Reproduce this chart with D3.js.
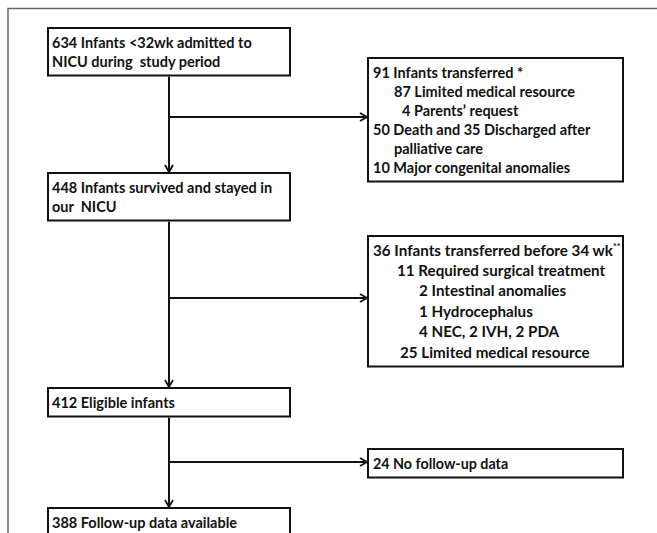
<!DOCTYPE html>
<html>
<head>
<meta charset="utf-8">
<script src="https://cdn.jsdelivr.net/npm/d3@7"></script>
<style>
  html, body { margin: 0; padding: 0; background: #fff; }
  svg { display: block; }
  text { font-family: Lato, "Open Sans", sans-serif; font-weight: bold; fill: #111; white-space: pre; }
</style>
</head>
<body>
<script>
// flow chart content
const mainSteps = [
  ['634 Infants <32wk admitted to', 'NICU during  study period'],
  ['448 Infants survived and stayed in', 'our  NICU'],
  ['412 Eligible infants'],
  ['388 Follow-up data available']
];

const exclusions = [
  ['91 Infants transferred *', '87 Limited medical resource', '4 Parents\u2019 request',
   '50 Death and 35 Discharged after', 'palliative care', '10 Major congenital anomalies'],
  ['36 Infants transferred before 34 wk', '11 Required surgical treatment', '2 Intestinal anomalies',
   '1 Hydrocephalus', '4 NEC, 2 IVH, 2 PDA', '25 Limited medical resource'],
  ['24 No follow-up data']
];

const footMarks = ['', '**', ''];

const W = 657, H = 533;

// layout
const mainX = 48, mainW = 242, cx = mainX + mainW / 2;
const exX = 368, exW = 255;
const mainTops = [28, 173, 388, 508];
const exTops = [58, 236, 449];
const branchY = [117, 298, 462];
const exLineH = [19, 20.4, 19];
const exIndent = [[0, 21, 29, 0, 21, 0], [0, 24, 46, 46, 46, 27], [0]];
const exFont = [14.5, 15.2, 14.3];
const fontSize = 14.5;

const boxH = (n, lh) => 19.5 + (n - 1) * lh + 9;

const svg = d3.select('body').append('svg')
  .attr('width', W).attr('height', H);

svg.append('defs').append('marker')
  .attr('id', 'arrow')
  .attr('viewBox', '0 0 10 10')
  .attr('refX', 9).attr('refY', 5)
  .attr('markerWidth', 10).attr('markerHeight', 10)
  .attr('markerUnits', 'userSpaceOnUse')
  .attr('orient', 'auto')
  .append('path')
  .attr('d', 'M2,1 L9,5 L2,9')
  .attr('fill', 'none')
  .attr('stroke', '#111')
  .attr('stroke-width', 1.8);

// outer frame (only top and left visible)
svg.append('rect')
  .attr('x', 8).attr('y', 8.5)
  .attr('width', 800).attr('height', 800)
  .attr('fill', 'none')
  .attr('stroke', '#666')
  .attr('stroke-width', 1.5);

// main boxes
const mainH = mainSteps.map((d, i) => boxH(d.length, 19));

const mg = svg.selectAll('.main')
  .data(mainSteps)
  .enter().append('g')
  .attr('class', 'main')
  .attr('transform', (d, i) => `translate(${mainX},${mainTops[i]})`);

mg.append('rect')
  .attr('width', mainW)
  .attr('height', (d, i) => mainH[i])
  .attr('fill', '#fff')
  .attr('stroke', '#111')
  .attr('stroke-width', 2);

mg.selectAll('text')
  .data(d => d)
  .enter().append('text')
  .attr('x', 4)
  .attr('y', (d, j) => 20 + j * 19)
  .attr('font-size', fontSize)
  .text(d => d);

// vertical connectors with arrow
svg.selectAll('.vline')
  .data(d3.range(mainSteps.length - 1))
  .enter().append('line')
  .attr('class', 'vline')
  .attr('x1', cx).attr('x2', cx)
  .attr('y1', i => mainTops[i] + mainH[i] + 1)
  .attr('y2', i => mainTops[i + 1] - 1)
  .attr('stroke', '#111')
  .attr('stroke-width', 2)
  .attr('marker-end', 'url(#arrow)');

// horizontal branches
svg.selectAll('.hline')
  .data(exclusions)
  .enter().append('line')
  .attr('class', 'hline')
  .attr('x1', cx).attr('x2', exX - 1)
  .attr('y1', (d, i) => branchY[i]).attr('y2', (d, i) => branchY[i])
  .attr('stroke', '#111')
  .attr('stroke-width', 2)
  .attr('marker-end', 'url(#arrow)');

// exclusion boxes
const eg = svg.selectAll('.excl')
  .data(exclusions)
  .enter().append('g')
  .attr('class', 'excl')
  .attr('transform', (d, i) => `translate(${exX},${exTops[i]})`);

eg.append('rect')
  .attr('width', exW)
  .attr('height', (d, i) => boxH(d.length, exLineH[i]))
  .attr('fill', '#fff')
  .attr('stroke', '#111')
  .attr('stroke-width', 2);

eg.each(function (lines, i) {
  const t = d3.select(this).selectAll('text')
    .data(lines)
    .enter().append('text')
    .attr('x', (d, j) => 5 + exIndent[i][j])
    .attr('y', (d, j) => 19.5 + j * exLineH[i])
    .attr('font-size', exFont[i])
    .text(d => d);
  if (footMarks[i]) {
    t.filter((d, j) => j === 0)
      .append('tspan')
      .attr('font-size', 9)
      .attr('dy', -6)
      .text(footMarks[i]);
  }
});
</script>
</body>
</html>
